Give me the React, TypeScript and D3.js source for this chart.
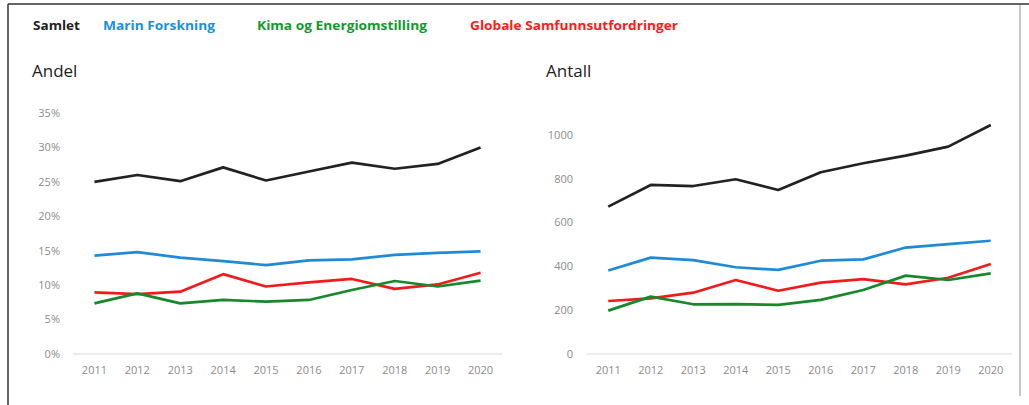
import React from "react";
import * as d3 from "d3";

const years = ["2011", "2012", "2013", "2014", "2015", "2016", "2017", "2018", "2019", "2020"];

const seriesNames = ["Samlet", "Marin Forskning", "Kima og Energiomstilling", "Globale Samfunnsutfordringer"];
const seriesColors = ["#222222", "#1f8ad6", "#17882c", "#f01c1c"];
const legendColors = ["#222222", "#1a8fdc", "#0f9a2e", "#ff1a1a"];

// Andel (%)
const andelSamlet = [25.0, 26.0, 25.1, 27.1, 25.2, 26.5, 27.8, 26.9, 27.6, 30.0];
const andelMarin = [14.3, 14.8, 14.0, 13.5, 12.9, 13.6, 13.75, 14.4, 14.7, 14.9];
const andelKlima = [7.35, 8.8, 7.35, 7.85, 7.6, 7.85, 9.3, 10.6, 9.8, 10.65];
const andelGlobale = [8.95, 8.7, 9.05, 11.6, 9.8, 10.4, 10.9, 9.45, 10.1, 11.8];

// Antall
const antallSamlet = [673, 772, 767, 798, 749, 830, 871, 906, 947, 1046];
const antallMarin = [381, 440, 429, 396, 384, 426, 432, 486, 502, 517];
const antallKlima = [198, 262, 227, 228, 224, 247, 292, 358, 338, 368];
const antallGlobale = [242, 254, 280, 338, 289, 326, 342, 318, 348, 411];

const andelTicks = [0, 5, 10, 15, 20, 25, 30, 35];
const antallTicks = [0, 200, 400, 600, 800, 1000];

const FONT = "'Open Sans', 'DejaVu Sans', sans-serif";
const TICK_COLOR = "#8c8c8c";

type PanelProps = {
  title: string;
  titleX: number;
  data: number[][];
  yDomain: [number, number];
  yRange: [number, number];
  ticks: number[];
  fmt: (v: number) => string;
  x0: number;
  x1: number;
  labelX: number;
};

function Panel({ title, titleX, data, yDomain, yRange, ticks, fmt, x0, x1, labelX }: PanelProps) {
  const x = d3.scaleBand<string>().domain(years).range([x0, x1]);
  const y = d3.scaleLinear().domain(yDomain).range(yRange);
  const line = d3
    .line<number>()
    .x((_, i) => (x(years[i]) as number) + x.bandwidth() / 2)
    .y((d) => y(d));
  const baseY = y(0);
  return (
    <g>
      <text x={titleX} y={77} fontFamily={FONT} fontSize={17} fill="#222">
        {title}
      </text>
      {ticks.map((t) => (
        <text
          key={t}
          x={labelX}
          y={y(t)}
          dy="0.35em"
          textAnchor="end"
          fontFamily={FONT}
          fontSize={11}
          fill={TICK_COLOR}
        >
          {fmt(t)}
        </text>
      ))}
      <line x1={x0} x2={x1} y1={baseY} y2={baseY} stroke="#d9d9d9" strokeWidth={1.2} />
      {years.map((yr) => (
        <text
          key={yr}
          x={(x(yr) as number) + x.bandwidth() / 2}
          y={baseY + 20}
          textAnchor="middle"
          fontFamily={FONT}
          fontSize={11}
          fill={TICK_COLOR}
        >
          {yr}
        </text>
      ))}
      {[0, 1, 3, 2].map((si) => (
        <path
          key={si}
          d={line(data[si]) || ""}
          fill="none"
          stroke={seriesColors[si]}
          strokeWidth={2.7}
          strokeLinejoin="round"
        />
      ))}
    </g>
  );
}

export default function App() {
  const legendX = [33, 103, 257, 470];
  const legendW = [47, 112, 170, 208];
  return (
    <svg
      width={1029}
      height={405}
      style={{ position: "absolute", left: 0, top: 0, background: "#fff" }}
    >
      <rect x={0} y={0} width={1029} height={405} fill="#fff" />
      <line x1={8} x2={1029} y1={4} y2={4} stroke="#333" strokeWidth={1.5} />
      <line x1={8} x2={8} y1={4} y2={405} stroke="#333" strokeWidth={1.5} />
      <line x1={1020} x2={1020} y1={5} y2={396} stroke="#c8c8c8" strokeWidth={2} />
      {seriesNames.map((n, i) => (
        <text
          key={n}
          x={legendX[i]}
          y={30}
          fontFamily={FONT}
          fontWeight="bold"
          fontSize={12}
          fill={legendColors[i]}
          textLength={legendW[i]}
          lengthAdjust="spacingAndGlyphs"
        >
          {n}
        </text>
      ))}
      <Panel
        title="Andel"
        titleX={32}
        data={[andelSamlet, andelMarin, andelKlima, andelGlobale]}
        yDomain={[0, 35]}
        yRange={[354, 113]}
        ticks={andelTicks}
        fmt={(v) => `${v}%`}
        x0={73}
        x1={502}
        labelX={60}
      />
      <Panel
        title="Antall"
        titleX={546}
        data={[antallSamlet, antallMarin, antallKlima, antallGlobale]}
        yDomain={[0, 1000]}
        yRange={[354, 135]}
        ticks={antallTicks}
        fmt={(v) => `${v}`}
        x0={587}
        x1={1012}
        labelX={573}
      />
    </svg>
  );
}
